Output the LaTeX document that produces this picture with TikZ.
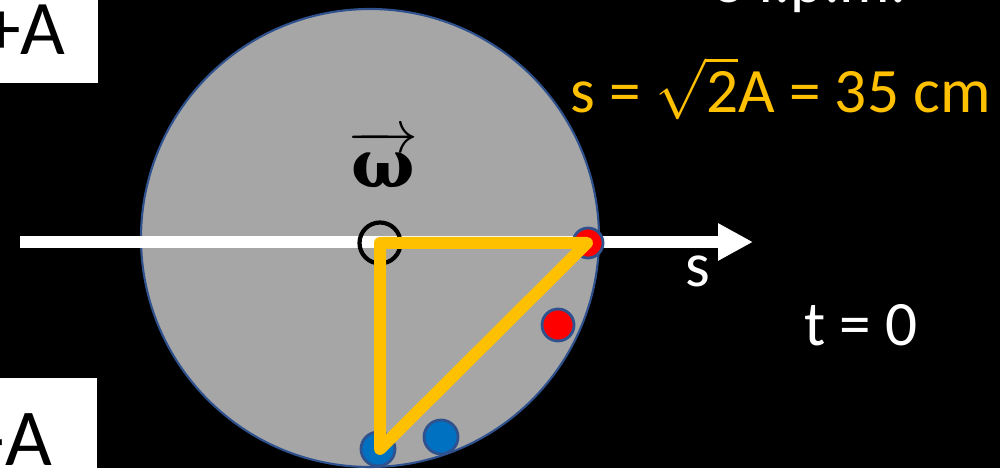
\documentclass[tikz,border=0pt]{standalone}
\usepackage{amsmath}
\usepackage{fontspec}
\setmainfont{Carlito}
\newfontfamily\omegafont{DejaVu Serif}
\usetikzlibrary{arrows.meta}
\definecolor{diskgray}{RGB}{166,166,166}
\definecolor{rimblue}{RGB}{47,82,143}
\definecolor{dotblue}{RGB}{0,112,192}
\definecolor{darkyellow}{RGB}{255,192,0}

\begin{document}
\begin{tikzpicture}[
  dot/.style={circle,draw=rimblue,line width=0.8pt,inner sep=0pt},
  big/.style={font=\fontsize{18}{21}\selectfont}]
  \useasboundingbox[fill=black] (0,0) rectangle (10,4.68);

  % disk and axis
  \draw[fill=diskgray,draw=rimblue,line width=0.6pt] (3.70,2.30) circle (2.29);
  \coordinate (axL) at (0.20,2.26);
  \coordinate (axR) at (7.53,2.26);
  \draw[white,line width=0.12cm,-{Triangle[length=0.35cm,width=0.35cm]}] (axL) -- (axR);
  \node[big,white,anchor=base] (saxis) at (6.98,1.81) {s};

  % points on the rim
  \foreach \n/\p/\c/\d in {r1/{5.88,2.25}/red/0.30,r2/{5.58,1.43}/red/0.32,
                           b1/{3.78,0.19}/dotblue/0.34,b2/{4.41,0.31}/dotblue/0.34}
    \node[dot,fill=\c,minimum size=\d cm] (\n) at (\p) {};

  % axle and triangle
  \coordinate (O) at (3.80,2.25);
  \coordinate (P) at (5.87,2.25);
  \coordinate (Q) at (3.80,0.19);
  \node[circle,draw=black,line width=1.2pt,minimum size=0.41cm,inner sep=0pt] (axle) at (O) {};
  \draw[darkyellow,line width=0.12cm,line join=round] (O) -- (P) -- (Q) -- cycle;
  \node[font=\fontsize{19}{22}\selectfont] (omega) at (3.83,3.09)
    {$\overrightarrow{\mbox{\kern1pt\omegafont\bfseries ω\kern1pt}}$};

  % amplitude boxes
  \fill[white] (0,3.85) rectangle (0.98,4.68);
  \node[font=\fontsize{22}{24}\selectfont,anchor=base east,inner sep=0pt] (plusA) at (0.66,4.13) {+A};
  \fill[white] (0,0) rectangle (0.97,0.90);
  \node[font=\fontsize{23}{25}\selectfont,anchor=base east,inner sep=0pt] (minusA) at (0.53,0.03) {-A};

  % texts on the right
  \node[big,white,anchor=base west,inner sep=0pt] (rpm) at (7.12,4.65) {3 r.p.m.};
  \node[big,darkyellow,anchor=base west,inner sep=0pt] (arc) at (5.70,3.55) {s = $\sqrt{\mbox{2}}$A = 35 cm};
  \node[big,white,anchor=base] (tzero) at (8.61,1.23) {t = 0};
\end{tikzpicture}
\end{document}
